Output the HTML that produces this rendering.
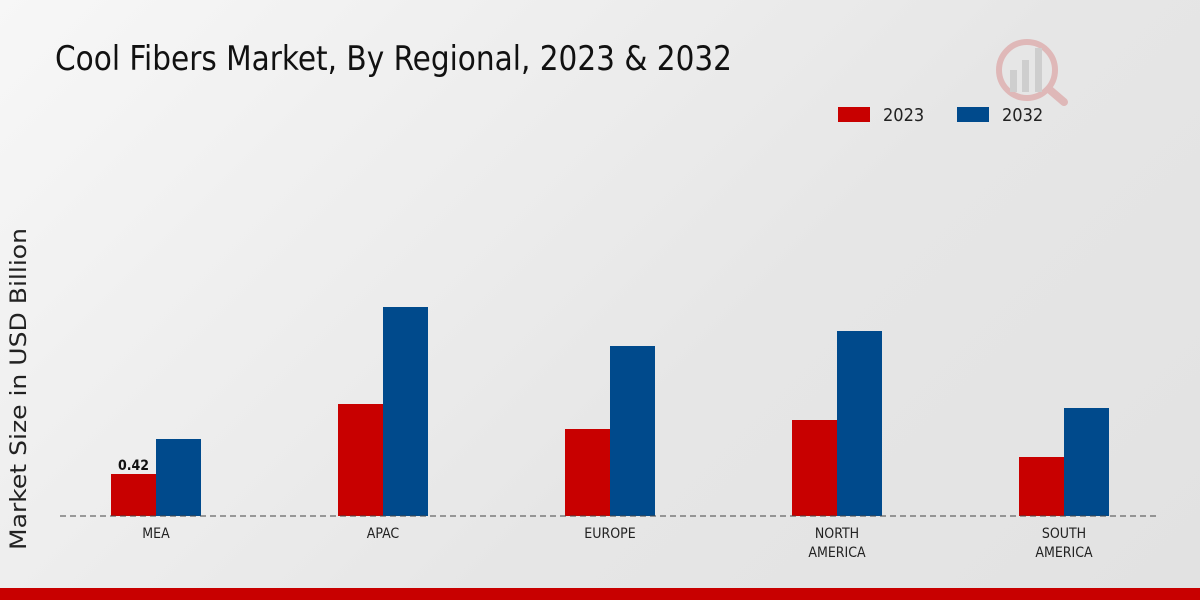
<!DOCTYPE html>
<html><head><meta charset="utf-8"><style>
html,body{margin:0;padding:0;width:1200px;height:600px;overflow:hidden}
body{background:linear-gradient(135deg,#f7f7f7 0%,#e6e6e6 60%,#e2e2e2 100%);font-family:"DejaVu Sans Condensed","Liberation Sans",sans-serif}
</style></head><body>
<svg id="chart" width="1200" height="600">
<text x="55" y="70" font-size="34" fill="#111" textLength="677" lengthAdjust="spacingAndGlyphs">Cool Fibers Market, By Regional, 2023 &amp; 2032</text>
<text transform="translate(26,389) rotate(-90)" text-anchor="middle" font-size="22" fill="#222" font-family="DejaVu Sans, sans-serif" textLength="322" lengthAdjust="spacingAndGlyphs">Market Size in USD Billion</text>
<g>
<rect x="838" y="107" width="32" height="15" fill="#c80000"/>
<text x="883" y="121" font-size="18" fill="#222">2023</text>
<rect x="957" y="107" width="32" height="15" fill="#004a8c"/>
<text x="1002" y="121" font-size="18" fill="#222">2032</text>
</g>
<g id="marks"></g>
<line x1="60" y1="516" x2="1160" y2="516" stroke="#444" stroke-dasharray="6,4"/>
<rect x="0" y="588" width="1200" height="12" fill="#c80000"/>
<g opacity="0.25">
<circle cx="1027" cy="70" r="28" fill="none" stroke="#c33" stroke-width="6"/>
<rect x="1010" y="70" width="7" height="22" fill="#888"/><rect x="1022" y="60" width="7" height="32" fill="#888"/><rect x="1035" y="48" width="7" height="44" fill="#888"/>
<line x1="1050" y1="90" x2="1064" y2="102" stroke="#c33" stroke-width="8" stroke-linecap="round"/>
</g>
</svg>
<script>
const categories=["MEA","APAC","EUROPE","NORTH|AMERICA","SOUTH|AMERICA"];
const values2023=[0.42,1.12,0.87,0.96,0.59];
const values2032=[0.77,2.09,1.70,1.85,1.08];
const labels2023=["0.42","","","",""];
const ns="http://www.w3.org/2000/svg";
const g=document.getElementById('marks');
const y=v=>516-v*100;
const xc=i=>156+i*227;
const bw=45;
function mk(t,a){const e=document.createElementNS(ns,t);for(const k in a)e.setAttribute(k,a[k]);g.appendChild(e);return e;}
categories.forEach((c,i)=>{
 let r=mk('rect',{x:xc(i)-bw,y:y(values2023[i]),width:bw,height:516-y(values2023[i]),fill:'#c80000'});
 
 
 r=mk('rect',{x:xc(i),y:y(values2032[i]),width:bw,height:516-y(values2032[i]),fill:'#004a8c'});
 
 
 if(labels2023[i]){const t=mk('text',{x:xc(i)-bw/2,y:y(values2023[i])-4,'text-anchor':'middle','font-size':14,'font-weight':'bold',fill:'#111'});t.textContent=labels2023[i];
 
 }
 c.split('|').forEach((p,j)=>{const t=mk('text',{x:xc(i),y:538+j*19,'text-anchor':'middle','font-size':14,fill:'#222'});t.textContent=p;
 
 });
});
</script>
</body></html>
